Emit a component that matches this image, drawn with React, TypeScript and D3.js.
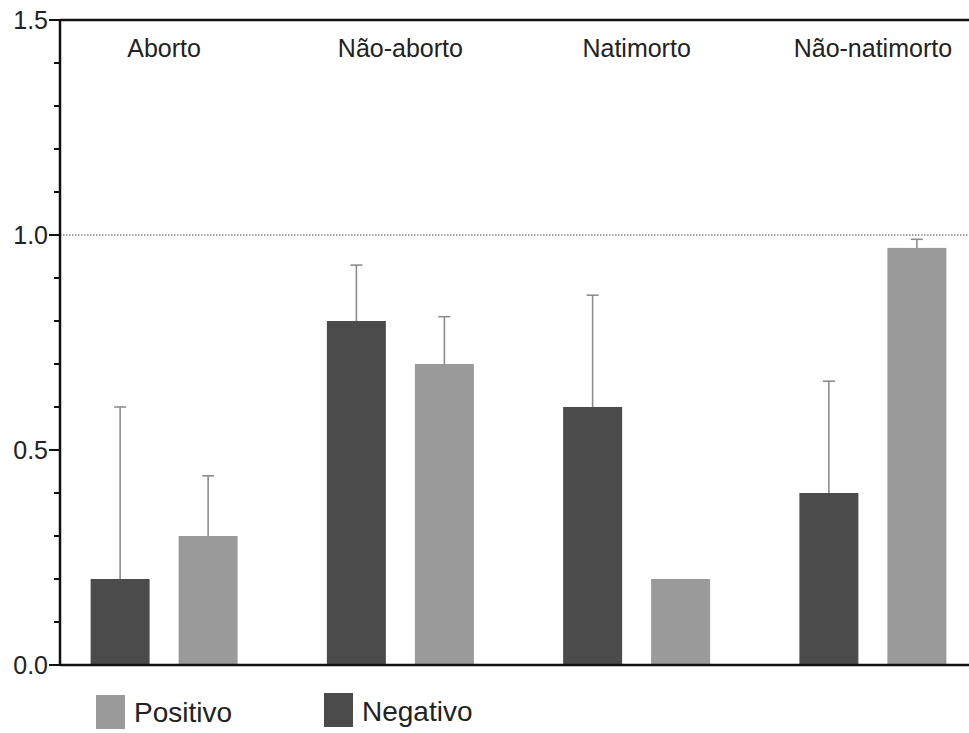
import React from "react";
import * as d3 from "d3";

const groups = ["Aborto", "Não-aborto", "Natimorto", "Não-natimorto"];
const seriesNames = ["Negativo", "Positivo"];
const negativoValues = [0.2, 0.8, 0.6, 0.4];
const negativoUpper = [0.6, 0.93, 0.86, 0.66];
const positivoValues = [0.3, 0.7, 0.2, 0.97];
const positivoUpper = [0.44, 0.81, null, 0.99];
const majorTicks = [0, 0.5, 1.0, 1.5];
const legendItems = ["Positivo", "Negativo"];

const W = 969;
const H = 733;
const FONT = "'Liberation Sans', Arial, Helvetica, sans-serif";
const colors: Record<string, string> = { Negativo: "#4b4b4b", Positivo: "#9a9a9a" };

export default function App() {
  const left = 60;
  const top = 20;
  const bottom = 665;
  const y = d3.scaleLinear().domain([0, 1.5]).range([bottom, top]);
  const xg = d3.scaleBand().domain(groups).range([46, 991]).padding(0);
  const xs = d3.scalePoint().domain(seriesNames).range([-44, 44]);
  const barW = 59;
  const capW = 12;

  const bars = groups.flatMap((g, i) => [
    { g, s: "Negativo", v: negativoValues[i], up: negativoUpper[i] },
    { g, s: "Positivo", v: positivoValues[i], up: positivoUpper[i] },
  ]);

  const minorTicks = d3.range(0, 15.01, 1).map((d) => d / 10);

  return (
    <svg width={W} height={H} style={{ position: "absolute", left: 0, top: 0, background: "#fff" }}>
      <rect x={0} y={0} width={W} height={H} fill="#fff" />
      {/* reference line at 1.0 */}
      <line x1={left} x2={W} y1={y(1)} y2={y(1)} stroke="#888" strokeWidth={1.5} strokeDasharray="1.5,1.5" />
      {/* bars */}
      {bars.map((b, i) => {
        const cx = (xg(b.g) as number) + xg.bandwidth() / 2 + (xs(b.s) as number);
        return (
          <g key={i}>
            {b.up != null && (
              <g stroke="#8c8c8c" strokeWidth={1.6}>
                <line x1={cx} x2={cx} y1={y(b.v)} y2={y(b.up)} />
                <line x1={cx - capW / 2} x2={cx + capW / 2} y1={y(b.up)} y2={y(b.up)} />
              </g>
            )}
            <rect x={cx - barW / 2} y={y(b.v)} width={barW} height={bottom - y(b.v)} fill={colors[b.s]} />
          </g>
        );
      })}
      {/* axes */}
      <line x1={left} x2={W} y1={top} y2={top} stroke="#111" strokeWidth={2.5} />
      <line x1={left} x2={W} y1={bottom} y2={bottom} stroke="#111" strokeWidth={2.5} />
      <line x1={left} x2={left} y1={top - 1} y2={bottom + 1} stroke="#111" strokeWidth={2.5} />
      {minorTicks.map((t, i) => (
        <line key={"m" + i} x1={left - 6} x2={left} y1={y(t)} y2={y(t)} stroke="#111" strokeWidth={2} />
      ))}
      {majorTicks.map((t, i) => (
        <g key={"M" + i}>
          <line x1={left - 11} x2={left} y1={y(t)} y2={y(t)} stroke="#111" strokeWidth={2} />
          <text x={left - 12} y={y(t)} dy="0.36em" textAnchor="end" fontFamily={FONT} fontSize={25} fill="#222">
            {d3.format(".1f")(t)}
          </text>
        </g>
      ))}
      {/* group labels */}
      {groups.map((g, i) => (
        <text key={"g" + i} x={(xg(g) as number) + xg.bandwidth() / 2} y={57} textAnchor="middle" fontFamily={FONT} fontSize={25} fill="#222">
          {g}
        </text>
      ))}
      {/* legend */}
      {legendItems.map((name, i) => {
        const lx = 96 + i * 228;
        return (
          <g key={"l" + i}>
            <rect x={lx} y={695 - i * 2} width={29} height={34} fill={colors[name]} />
            <text x={lx + 38} y={722 - i * 1} fontFamily={FONT} fontSize={28} fill="#222">
              {name}
            </text>
          </g>
        );
      })}
    </svg>
  );
}
